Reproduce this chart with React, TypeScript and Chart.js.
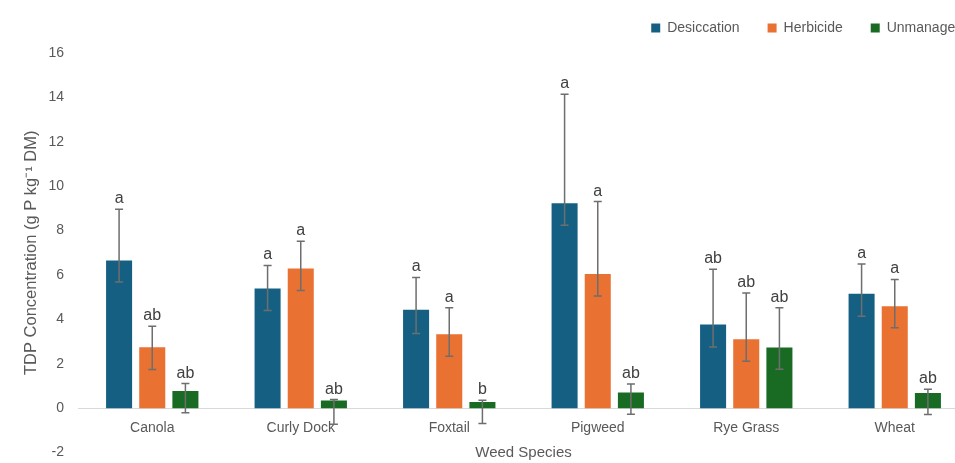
import React, { useEffect, useRef } from 'react';
import { Chart, registerables } from 'chart.js';

Chart.register(...registerables);

const categories = ['Canola', 'Curly Dock', 'Foxtail', 'Pigweed', 'Rye Grass', 'Wheat'];
const seriesNames = ['Desiccation', 'Herbicide', 'Unmanaged'];

const desiccation = [6.65, 5.39, 4.43, 9.23, 3.77, 5.15];
const desiccationHigh = [8.96, 6.43, 5.89, 14.14, 6.26, 6.5];
const desiccationLow = [5.69, 4.4, 3.36, 8.24, 2.76, 4.14];
const desiccationLetters = ['a', 'a', 'a', 'a', 'ab', 'a'];

const herbicide = [2.75, 6.29, 3.33, 6.05, 3.11, 4.59];
const herbicideHigh = [3.69, 7.52, 4.52, 9.31, 5.19, 5.8];
const herbicideLow = [1.74, 5.3, 2.34, 5.05, 2.12, 3.62];
const herbicideLetters = ['ab', 'a', 'a', 'a', 'ab', 'a'];

const unmanaged = [0.77, 0.35, 0.28, 0.71, 2.73, 0.69];
const unmanagedHigh = [1.11, 0.39, 0.36, 1.09, 4.52, 0.85];
const unmanagedLow = [-0.21, -0.72, -0.69, -0.27, 1.76, -0.28];
const unmanagedLetters = ['ab', 'ab', 'b', 'ab', 'ab', 'ab'];

const yTicksMin = -2;
const yTicksMax = 16;
const yTickStep = 2;

const colors = ['#156082', '#E97132', '#196B24'];
const FONT = "'Liberation Sans', Arial, sans-serif";
const TEXT = '#595959';

const errorInfo = [
  { high: desiccationHigh, low: desiccationLow, letters: desiccationLetters },
  { high: herbicideHigh, low: herbicideLow, letters: herbicideLetters },
  { high: unmanagedHigh, low: unmanagedLow, letters: unmanagedLetters },
];

const errorBarPlugin = {
  id: 'errorBars',
  afterDatasetsDraw(chart: any) {
    const ctx = chart.ctx;
    const yScale = chart.scales.y;
    chart.data.datasets.forEach((_ds: any, di: number) => {
      const meta = chart.getDatasetMeta(di);
      const info = errorInfo[di];
      meta.data.forEach((bar: any, i: number) => {
        const x = bar.x;
        const yh = yScale.getPixelForValue(info.high[i]);
        const yl = yScale.getPixelForValue(info.low[i]);
        ctx.save();
        ctx.strokeStyle = '#6e6e6e';
        ctx.lineWidth = 1.5;
        ctx.beginPath();
        ctx.moveTo(x, yh);
        ctx.lineTo(x, yl);
        ctx.moveTo(x - 4, yh);
        ctx.lineTo(x + 4, yh);
        ctx.moveTo(x - 4, yl);
        ctx.lineTo(x + 4, yl);
        ctx.stroke();
        ctx.fillStyle = '#404040';
        ctx.font = `16px ${FONT}`;
        ctx.textAlign = 'center';
        ctx.textBaseline = 'alphabetic';
        ctx.fillText(info.letters[i], x, yh - 6);
        ctx.restore();
      });
    });
  },
};

export default function App() {
  const canvasRef = useRef<HTMLCanvasElement | null>(null);

  useEffect(() => {
    if (!canvasRef.current) return;
    const values = [desiccation, herbicide, unmanaged];
    const chart = new Chart(canvasRef.current, {
      type: 'bar',
      data: {
        labels: categories,
        datasets: seriesNames.map((name, i) => ({
          label: name,
          data: values[i],
          backgroundColor: colors[i],
          borderWidth: 0,
          categoryPercentage: 0.67,
          barPercentage: 0.785,
        })),
      },
      options: {
        responsive: true,
        maintainAspectRatio: false,
        animation: false,
        layout: { padding: { top: -7, left: 0, right: 0, bottom: 0 } },
        plugins: {
          legend: {
            position: 'top',
            align: 'end',
            labels: {
              boxWidth: 9,
              boxHeight: 9,
              padding: 28,
              color: TEXT,
              font: { size: 14, family: FONT },
            },
          },
          title: {
            display: true,
            text: '',
            position: 'top',
            weight: 0,
            padding: 0,
            font: { size: 8, lineHeight: 1 },
          },
          subtitle: {
            display: true,
            text: '',
            position: 'right',
            padding: 0,
            font: { size: 22, lineHeight: 1 },
          },
          tooltip: { enabled: false },
        },
        scales: {
          x: {
            position: { y: 0 },
            grid: { display: false, drawTicks: false },
            border: { display: true, color: '#d9d9d9', width: 1 },
            ticks: { color: TEXT, font: { size: 14, family: FONT }, padding: 12 },
            title: {
              display: true,
              text: 'Weed Species',
              color: TEXT,
              font: { size: 15, family: FONT },
              padding: { top: 0, bottom: -43 },
            },
            afterFit: (s: any) => {
              s.height = 11;
            },
          },
          y: {
            min: yTicksMin,
            max: yTicksMax,
            ticks: { stepSize: yTickStep, padding: 14, color: TEXT, font: { size: 14, family: FONT } },
            grid: { display: false, drawTicks: false },
            border: { display: false },
            title: {
              display: true,
              text: 'TDP Concentration (g P kg⁻¹ DM)',
              color: TEXT,
              font: { size: 16.5, family: FONT },
              padding: { top: 22, bottom: 0 },
            },
            afterFit: (s: any) => {
              s.width = 78;
            },
          },
        },
      } as any,
      plugins: [errorBarPlugin],
    });
    return () => chart.destroy();
  }, []);

  return (
    <div
      style={{
        position: 'fixed',
        left: 0,
        top: 0,
        width: 955,
        height: 463,
        overflow: 'hidden',
        background: '#ffffff',
      }}
    >
      <div style={{ position: 'relative', width: 991, height: 475 }}>
        <canvas ref={canvasRef} />
      </div>
    </div>
  );
}
